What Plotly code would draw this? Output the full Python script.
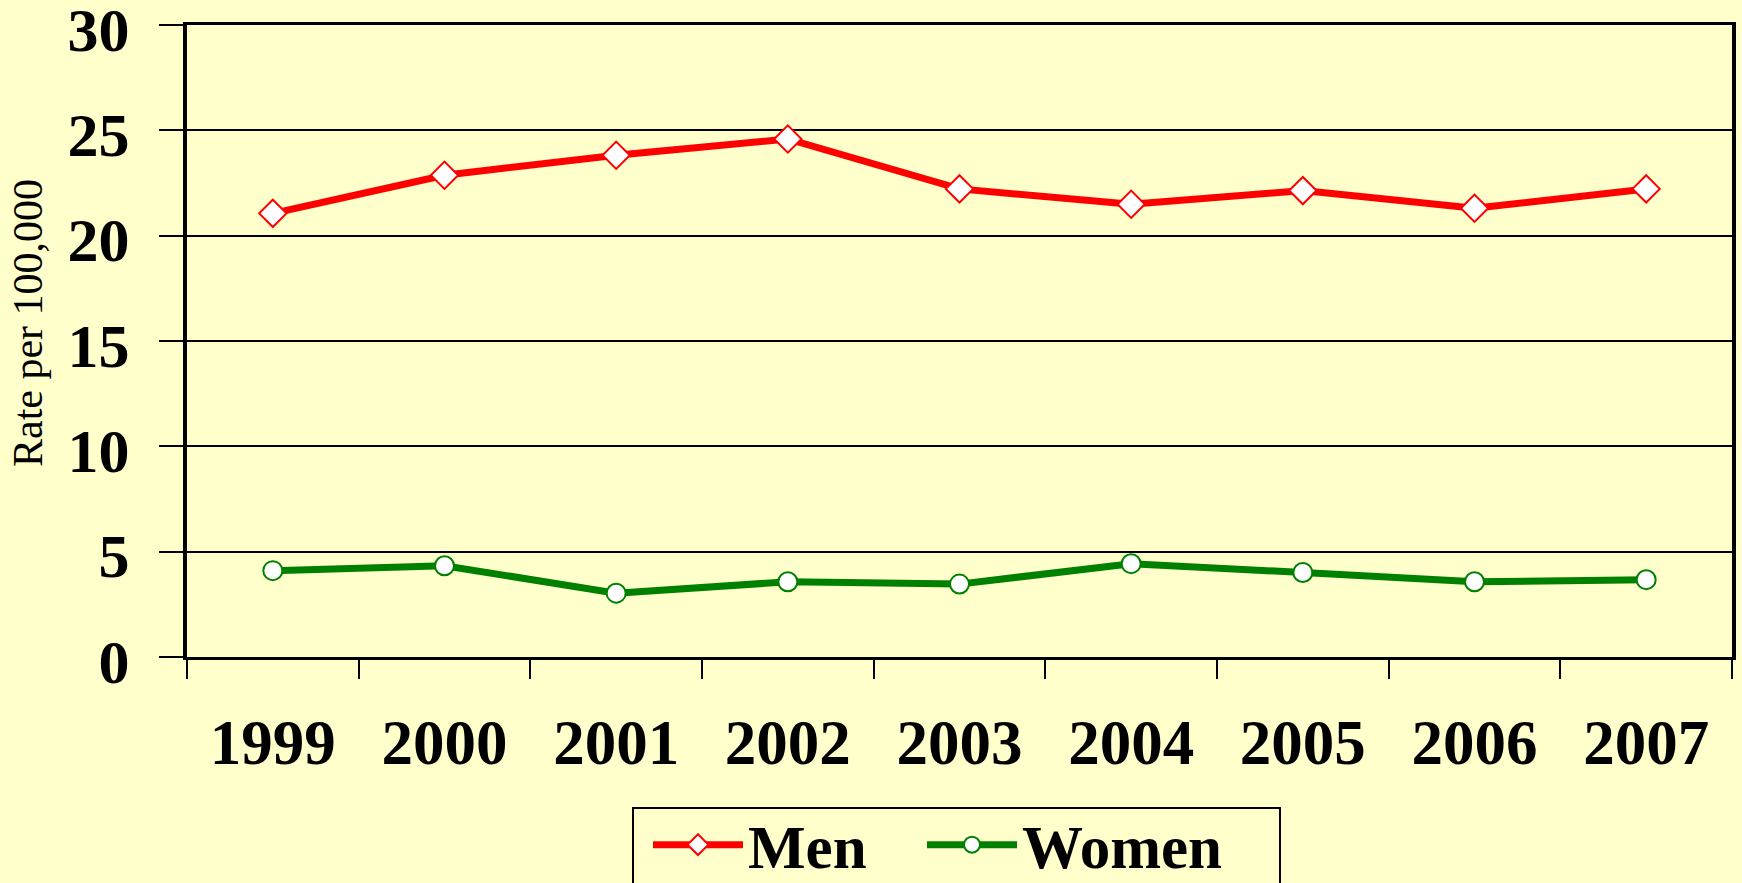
import plotly.graph_objects as go

years = ["1999", "2000", "2001", "2002", "2003", "2004", "2005", "2006", "2007"]
men = [21.06, 22.87, 23.82, 24.59, 22.22, 21.49, 22.14, 21.30, 22.22]
women = [4.10, 4.33, 3.03, 3.57, 3.46, 4.43, 4.01, 3.57, 3.67]

BG = "#FFFFCC"
FONT = "Liberation Serif"

# plot-area geometry (pixels) used to place paper-referenced items
L, R, T, B = 187, 1732, 25, 657
W, H = R - L, B - T


def px(x):
    return (x - L) / W


def py(y):
    return (B - y) / H


fig = go.Figure()
fig.add_trace(go.Scatter(
    x=years, y=men, name="Men", mode="lines+markers", legend="legend",
    line=dict(color="#FF0000", width=7),
    marker=dict(symbol="diamond", size=21, color="white",
                line=dict(color="#FF0000", width=2)),
))
fig.add_trace(go.Scatter(
    x=years, y=women, name="Women", mode="lines+markers", legend="legend2",
    line=dict(color="#008000", width=7),
    marker=dict(symbol="circle", size=19, color="white",
                line=dict(color="#008000", width=2)),
))

legend_common = dict(
    orientation="h", xanchor="left", yanchor="middle", y=py(845),
    borderwidth=0, bgcolor="rgba(0,0,0,0)",
    font=dict(family=FONT, size=61, color="black", weight="bold"),
    itemwidth=90,
)

fig.update_layout(
    width=1742, height=883,
    margin=dict(l=L, r=1742 - R, t=T, b=883 - B, autoexpand=False),
    paper_bgcolor=BG, plot_bgcolor=BG,
    font=dict(family=FONT, color="black"),
    showlegend=True,
    legend=dict(x=px(648), **legend_common),
    legend2=dict(x=px(922), **legend_common),
    xaxis=dict(
        type="category", range=[-0.5, 8.5], tickson="boundaries",
        ticks="outside", ticklen=19, tickwidth=2, tickcolor="black",
        showline=True, linewidth=3, linecolor="black", mirror=True,
        showgrid=False, zeroline=False,
        tickfont=dict(family=FONT, size=63, color="black", weight="bold"),
        ticklabelstandoff=28,
    ),
    yaxis=dict(
        range=[0, 30], dtick=5, tick0=0,
        ticks="outside", ticklen=24, tickwidth=2, tickcolor="black",
        showline=True, linewidth=4, linecolor="black", mirror=True,
        showgrid=True, gridcolor="black", gridwidth=2, zeroline=False,
        tickfont=dict(family=FONT, size=62, color="black", weight="bold"),
        ticklabelstandoff=17, ticklabeloverflow="allow", ticklabelshift=4,
    ),
    shapes=[dict(
        type="rect", xref="paper", yref="paper",
        x0=px(633), x1=px(1280), y0=py(808), y1=py(905),
        line=dict(color="black", width=2), fillcolor="rgba(0,0,0,0)",
    )],
    annotations=[dict(
        text="Rate per 100,000", xref="paper", yref="paper",
        x=px(28), y=py(323),
        xanchor="center", yanchor="middle", textangle=-90, showarrow=False,
        font=dict(family=FONT, size=42, color="black"),
    )],
)

fig.write_html(
    "out.html",
    config={"displayModeBar": False},
    post_script="document.body.style.margin='0';document.body.style.padding='0';document.body.style.overflow='hidden';",
)
